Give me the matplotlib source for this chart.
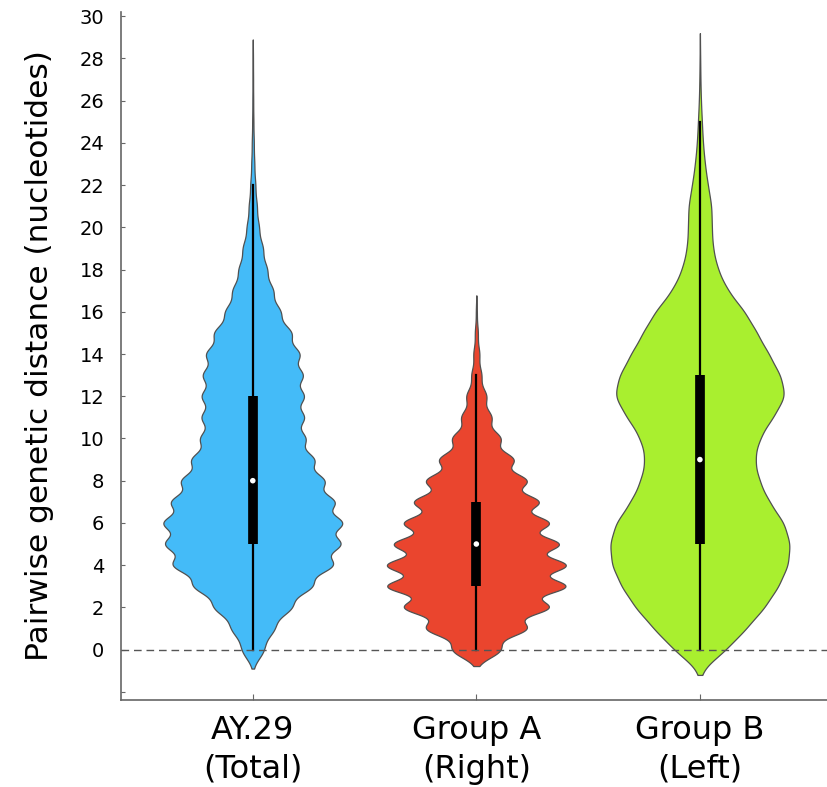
import numpy as np
import matplotlib.pyplot as plt

# categories and colours
groups = ['AY.29\n(Total)', 'Group A\n(Right)', 'Group B\n(Left)']
colors = ['#44bbf8', '#ea452e', '#a9ef2f']

ay29_counts = [11, 21, 38, 58, 79, 86, 88, 80, 70, 60, 51, 50, 50, 49, 46, 38,
               27, 20, 14, 10, 6, 4, 2.5, 1.5, 1.0, 0.6, 0.4, 0.3, 0.2]
groupA_counts = [24, 50, 72, 89, 89, 82, 72, 62, 50, 37, 24, 15, 10, 5, 3, 1.5, 0.5]
groupB_counts = [27, 47, 66, 80, 90, 92, 86, 70, 60, 55, 60, 74, 88, 82, 70, 58,
                 46, 28, 18, 13, 12, 12, 8, 5, 3, 2, 1, 0.5, 0.3]

# box summary (whisker low, q1, median, q3, whisker high)
whisk_lo = [0, 0, 0]
q1 = [5, 3, 5]
median = [8, 5, 9]
q3 = [12, 7, 13]
whisk_hi = [22, 13, 25]

# kde bandwidth per violin
bandwidth = [0.45, 0.39, 0.6]

all_counts = [ay29_counts, groupA_counts, groupB_counts]

fig = plt.figure(figsize=(8.28, 7.87), dpi=100)
ax = fig.add_axes([0.146, 0.1105, 0.854, 0.8745])

for i, counts in enumerate(all_counts):
    vals = np.arange(len(counts))
    w = np.array(counts, dtype=float)
    bw = bandwidth[i]
    grid = np.linspace(vals.min() - 2 * bw, vals.max() + 2 * bw, 1500)
    dens = (w[None, :] * np.exp(-0.5 * ((grid[:, None] - vals[None, :]) / bw) ** 2)).sum(axis=1)
    half = dens / dens.max() * 0.40
    ax.fill_betweenx(grid, i - half, i + half, facecolor=colors[i],
                     edgecolor='#505050', linewidth=0.9, zorder=2)
    # inner box
    ax.plot([i, i], [whisk_lo[i], whisk_hi[i]], color='black', lw=1.6, zorder=3)
    ax.plot([i, i], [q1[i], q3[i]], color='black', lw=7, solid_capstyle='butt', zorder=4)
    ax.scatter([i], [median[i]], s=16, color='white', edgecolors='none', zorder=5)

ax.axhline(0, color='#555555', lw=1.0, ls=(0, (5.5, 3.5)), zorder=6)

ax.set_xlim(-0.59, 2.573)
ax.set_ylim(-2.39, 30.21)

yt = list(range(-2, 31, 2))
ax.set_yticks(yt)
ax.set_yticklabels(['' if t < 0 else str(t) for t in yt], fontsize=14)
ax.set_xticks(range(len(groups)))
ax.set_xticklabels(groups, fontsize=23, linespacing=1.3)

ax.tick_params(axis='y', direction='in', length=3, pad=12, color='#666666')
ax.tick_params(axis='x', direction='in', length=4, pad=11, color='#666666')

for s in ['top', 'right']:
    ax.spines[s].set_visible(False)
for s in ['left', 'bottom']:
    ax.spines[s].set_color('#666666')
    ax.spines[s].set_linewidth(1.2)

ax.set_ylabel('Pairwise genetic distance (nucleotides)', fontsize=22.5, labelpad=18)

fig.savefig('out.png', dpi=100)
